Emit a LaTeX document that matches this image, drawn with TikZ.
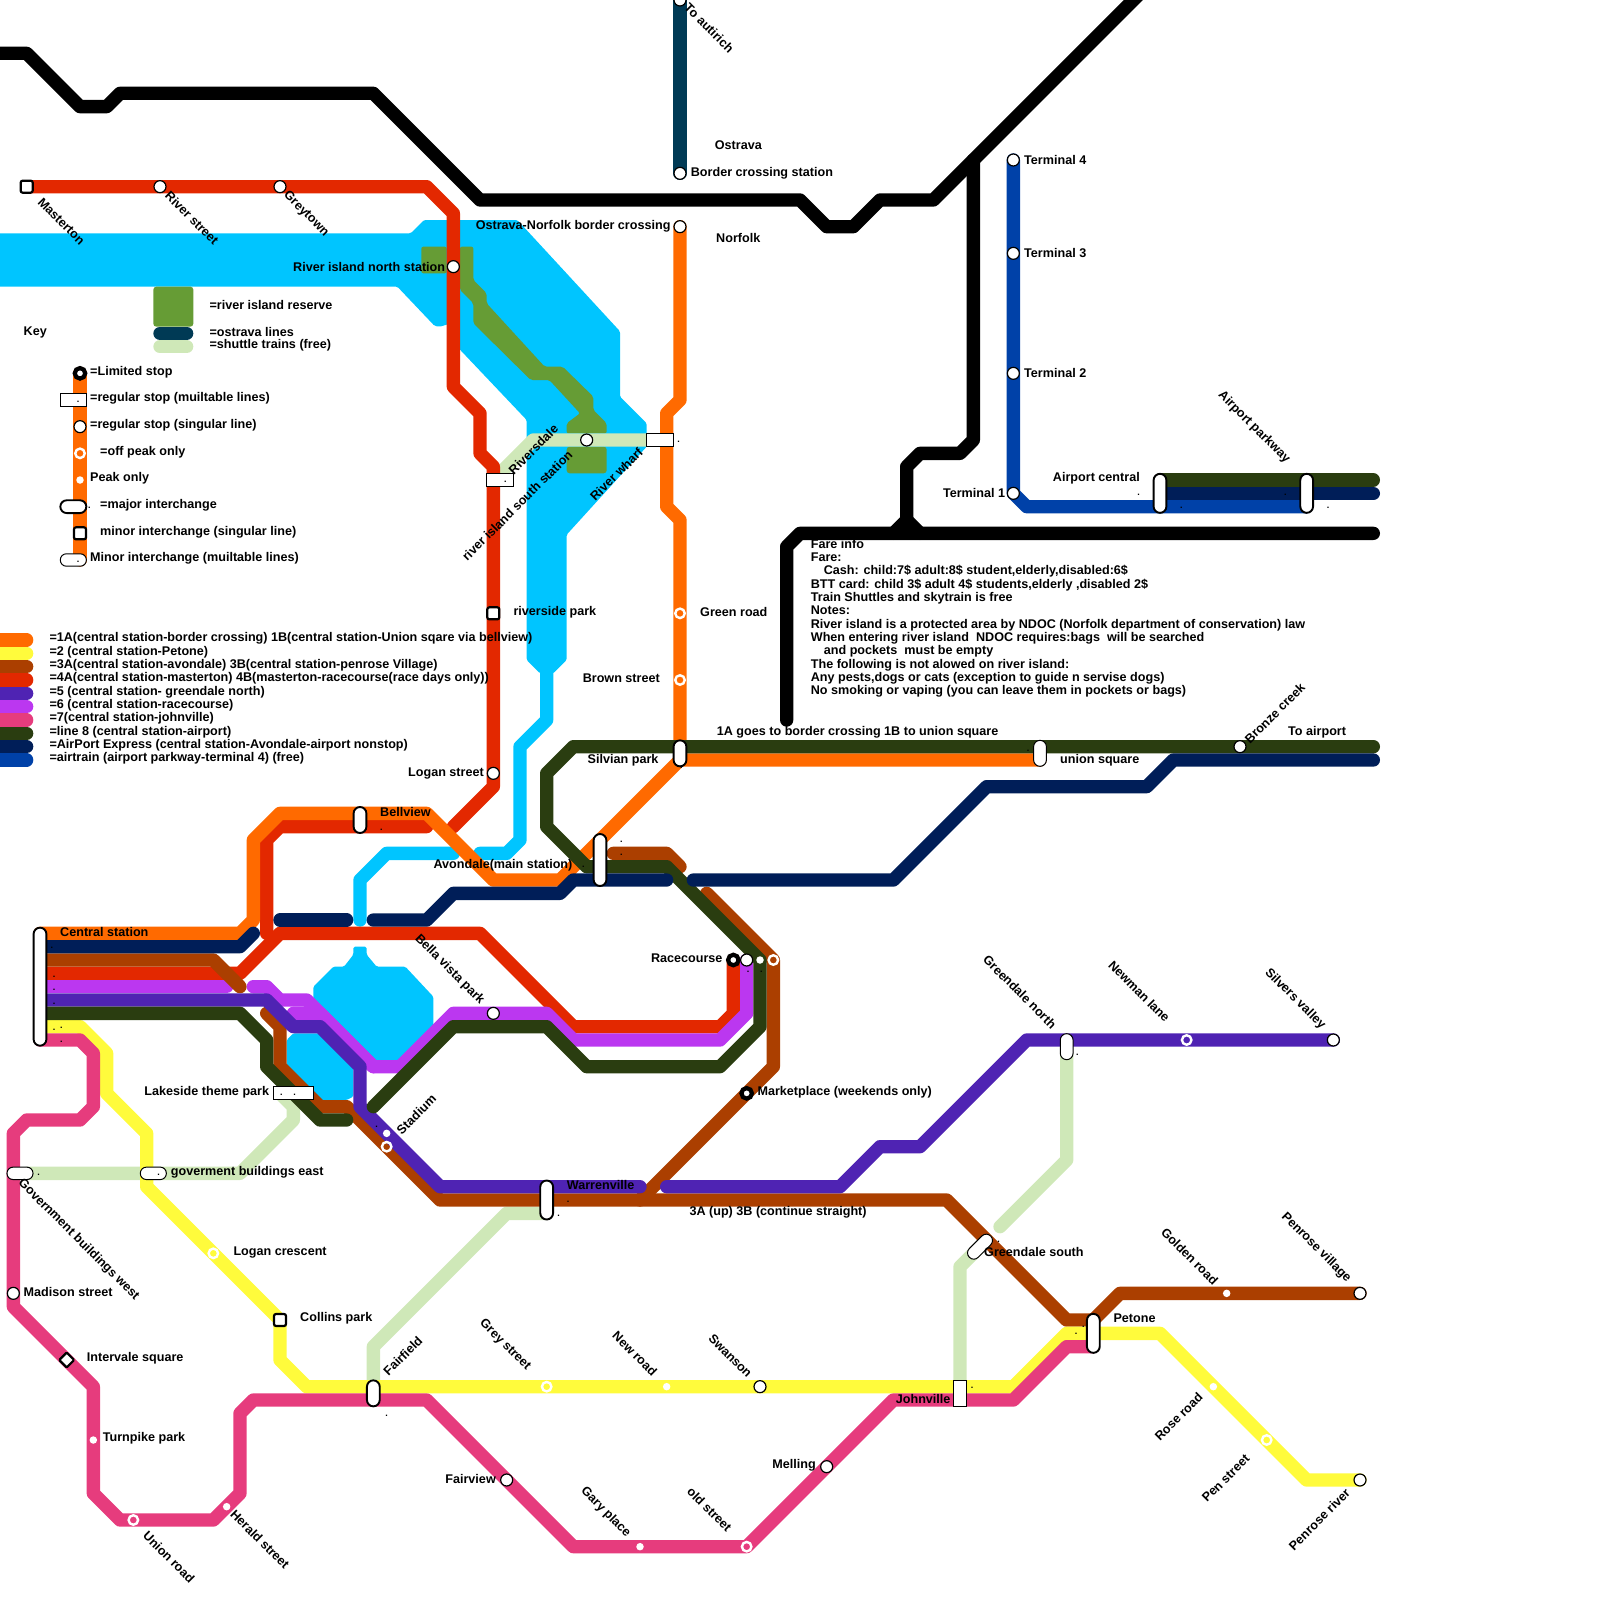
\documentclass[tikz,border=0pt]{standalone}
\usepackage{fontspec}
\setmainfont{Liberation Sans}
\definecolor{org}{HTML}{FF6A00}
\definecolor{ylw}{HTML}{FFFB3C}
\definecolor{brn}{HTML}{AB3F00}
\definecolor{rdd}{HTML}{E32800}
\definecolor{ind}{HTML}{4F23B3}
\definecolor{prp}{HTML}{BB37F0}
\definecolor{pnk}{HTML}{E63C7D}
\definecolor{dgr}{HTML}{2A3D10}
\definecolor{nvy}{HTML}{001E58}
\definecolor{blu}{HTML}{0041A8}
\definecolor{riv}{HTML}{00C5FF}
\definecolor{res}{HTML}{669C35}
\definecolor{ost}{HTML}{003A55}
\definecolor{sht}{HTML}{CFE8B8}

\begin{document}
\begin{tikzpicture}[
  x=13.333pt, y=-13.333pt,
  font=\bfseries\fontsize{12.6}{13.333}\selectfont,
  ln/.style={line width=13.333pt, line cap=round, line join=round},
  stn/.style={circle, draw=black, fill=white, line width=1.2pt, minimum size=12pt, inner sep=0pt},
  ltd/.style={circle, draw=black, fill=white, line width=4.2pt, minimum size=10.5pt, inner sep=0pt},
  off/.style={circle, draw=white, line width=2.4pt, minimum size=9.5pt, inner sep=0pt},
  peak/.style={circle, fill=white, minimum size=7.5pt, inner sep=0pt},
  sqr/.style={rectangle, rounded corners=2pt, draw=black, fill=white, line width=2.2pt, minimum size=12pt, inner sep=0pt},
  pill/.style={rectangle, rounded corners=6.4pt, draw=black, fill=white, line width=1.9pt, minimum width=12.8pt, inner sep=0pt},
  flat/.style={rectangle, rounded corners=6pt, draw=black, fill=white, line width=1pt, minimum width=26pt, minimum height=12.4pt, inner sep=0pt},
  stop/.style={rectangle, draw=black, fill=white, line width=1pt, minimum width=26.6pt, minimum height=13.3pt, inner sep=0pt},
  lab/.style={anchor=west, inner sep=0pt},
  labr/.style={anchor=east, inner sep=0pt},
  fall/.style={anchor=west, rotate=-45, inner sep=0pt},
  rise/.style={anchor=west, rotate=45, inner sep=0pt},
  speck/.style={inner sep=0pt, font=\bfseries\fontsize{9}{9}\selectfont}
]
\useasboundingbox (0,0) rectangle (120,120);

% ---------------------------------------------------------------- river
\fill[riv, rounded corners=1.5pt] (-1,17.5) -- (30.8,17.5) -- (31.8,16.5) -- (38.8,16.5) -- (46.5,24.85) -- (46.5,29.75)
  -- (48.5,31.75) -- (48.5,33.5) -- (42.5,40.1) -- (42.5,49.5) -- (41.5,50.5) -- (40.5,50.5) -- (39.5,49.5) -- (39.5,31.5)
  -- (34,25.7) -- (34,24.2) -- (33,24.5) -- (32.6,24.45) -- (29.8,21.5) -- (-1,21.5) -- cycle;
\draw[ln, riv] (41,50) -- (41,54) -- (39,56) -- (39,63) -- (38,64) -- (36,64);
\draw[ln, riv] (34,64) -- (29,64) -- (27,66) -- (27,69);
\fill[riv, rounded corners=1.5pt] (26.5,71) -- (27.5,71) -- (27.5,71.6) -- (28.25,72.5) -- (30.4,72.5) -- (32.5,74.75) -- (32.5,77.25)
  -- (30.25,79.5) -- (27.75,79.5) -- (23.5,75) -- (23.5,74) -- (25,72.5) -- (25.8,72.5) -- (26.5,71.6) -- cycle;
\fill[riv, rounded corners=1.5pt] (21.5,78) -- (22,77.5) -- (24.1,77.5) -- (26.5,79.75) -- (26.5,82.25) -- (26,82.5) -- (23.75,82.5) -- (21.5,80) -- cycle;

% ---------------------------------------------------------------- reserve
\fill[res, rounded corners=2pt] (31.6,18.5) rectangle (33.5,20.5);
\fill[res, rounded corners=2pt] (34.5,18.5) -- (35.5,18.5) -- (35.5,21) -- (36.5,22) -- (36.5,22.75) -- (40.85,27.5) -- (42.2,27.5)
  -- (44.5,29.75) -- (44.5,30.75) -- (45.5,31.75) -- (45.5,32.5) -- (42.5,32.5) -- (42.5,31.75) -- (43.5,31) -- (41.2,28.5) -- (39.8,28.5)
  -- (35.5,24.25) -- (35.5,22.75) -- (34.5,21.75) -- cycle;
\fill[res, rounded corners=3pt] (42.5,33.5) rectangle (45.5,35.5);
\fill[res, rounded corners=3pt] (11.5,21.5) rectangle (14.5,24.5);

% ---------------------------------------------------------------- lines
\draw[ln, black] (-1,4) -- (2,4) -- (6,8) -- (8,8) -- (9,7) -- (28,7) -- (36,15) -- (60,15) -- (62,17) -- (64,17) -- (66,15) -- (70,15) -- (86,-1);
\draw[ln, black] (73,12) -- (73,33) -- (72,34) -- (69,34) -- (68,35) -- (68,39.6);
\draw[ln, black] (103,40) -- (60,40) -- (59,41) -- (59,54);
\draw[ln, black] (67,40) -- (68,39) -- (69,40);
\draw[ln, ost] (51,-1) -- (51,13);
\draw[ln, blu] (76,12) -- (76,37) -- (77,38) -- (98,38);

% shuttles
\draw[ln, sht] (2,88) -- (18,88) -- (22,84) -- (22,83) -- (21,82);
\draw[ln, sht] (28,104) -- (28,101) -- (38,91) -- (41,91);
\draw[ln, sht] (80,79) -- (80,87) -- (75,92);
\draw[ln, sht] (72,104) -- (72,95) -- (74,93);
\draw[ln, sht] (37,36) -- (40,33) -- (49,33);

\draw[ln, rdd] (2,14) -- (32,14) -- (34,16) -- (34,29) -- (36,31) -- (36,34) -- (37,35) -- (37,59) -- (34,62);
\draw[ln, rdd] (32,62) -- (21,62) -- (20,63) -- (20,70);
\draw[ln, rdd] (3,73) -- (18,73) -- (21,70) -- (36,70) -- (43,77) -- (54,77) -- (55,76) -- (55,72);
\draw[ln, org] (3,70) -- (18,70) -- (19,69) -- (19,63) -- (21,61) -- (32,61) -- (37,66) -- (42,66) -- (51,57) -- (78,57);
\draw[ln, org] (51,17) -- (51,30) -- (50,31) -- (50,38) -- (51,39) -- (51,56);
\draw[ln, org] (6,28) -- (6,42);
\draw[ln, brn] (20,76) -- (21,77) -- (21,80) -- (24,83) -- (26,83) -- (33,90) -- (71,90) -- (80,99) -- (82,99) -- (84,97) -- (102,97);
\draw[ln, prp] (3,74) -- (17,74);
\draw[ln, brn] (3,72) -- (16,72) -- (18,74);
\draw[ln, brn] (48,90) -- (58,80) -- (58,72) -- (53,67);
\draw[ln, brn] (46,64) -- (50,64) -- (51,65);
\draw[ln, prp] (19,74) -- (20,74) -- (21,75) -- (23,75) -- (28,80) -- (30,80) -- (34,76) -- (41,76) -- (43,78) -- (54,78) -- (56,76) -- (56,72);
\draw[ln, prp] (22,76) -- (24,76) -- (28,80);
\draw[ln, ind] (3,75) -- (20,75) -- (22,77) -- (24,77) -- (27,80) -- (27,83) -- (33,89) -- (48,89);
\draw[ln, ind] (50,89) -- (63,89) -- (66,86) -- (69,86) -- (77,78) -- (100,78);
\draw[ln, ylw] (3,77) -- (6,77) -- (8,79) -- (8,82) -- (11,85) -- (11,89) -- (21,99) -- (21,102) -- (23,104) -- (76,104) -- (80,100) -- (87,100) -- (98,111) -- (102,111);
\draw[ln, pnk] (3,78) -- (6,78) -- (7,79) -- (7,83) -- (6,84) -- (2,84) -- (1,85) -- (1,98) -- (7,104) -- (7,112) -- (9,114) -- (16,114) -- (18,112)
  -- (18,106) -- (19,105) -- (32,105) -- (43,116) -- (56,116) -- (67,105) -- (76,105) -- (80,101) -- (82,101);
\draw[ln, dgr] (3,76) -- (18,76) -- (20,78) -- (20,80) -- (24,84) -- (26,84);
\draw[ln, dgr] (103,56) -- (43,56) -- (41,58) -- (41,62) -- (44,65) -- (50,65) -- (57,72) -- (57,77) -- (54,80) -- (44,80) -- (41,77) -- (34,77) -- (28,83);
\draw[ln, dgr] (87,36) -- (103,36);
\draw[ln, nvy] (3,71) -- (18,71) -- (19,70);
\draw[ln, nvy] (21,69) -- (26,69);
\draw[ln, nvy] (28,69) -- (32,69) -- (34,67) -- (42,67) -- (43,66) -- (50,66);
\draw[ln, nvy] (52,66) -- (67,66) -- (74,59) -- (86,59) -- (88,57) -- (103,57);
\draw[ln, nvy] (87,37) -- (103,37);

% ---------------------------------------------------------------- key swatches
\foreach \c/\y in {org/48,ylw/49,brn/50,rdd/51,ind/52,prp/53,pnk/54,dgr/55,nvy/56,blu/57}
  \draw[ln, \c] (-1,\y) -- (2,\y);
\draw[ln, ost] (12,25) -- (14,25);
\draw[ln, sht] (12,26) -- (14,26);

% ---------------------------------------------------------------- stops
\foreach \n/\x/\y in {autirich/51/0,border/51/13,crossing/51/17,term4/76/12,term3/76/19,term2/76/28,term1/76/37,rivernorth/34/20,
  riversouth/44/33,riverst/12/14,greytown/21/14,keyreg/6/32,logan/37/58,bellavista/37/76,madison/1/97,fairview/38/111,
  melling/62/110,swanson/57/104,pvillage/102/97,priver/102/111,silvers/100/78,bronze/93/56}
  \node[stn] (\n) at (\x,\y) {};
\foreach \n/\x/\y in {keyltd/6/28,racecourse/55/72,marketplace/56/82}
  \node[ltd] (\n) at (\x,\y) {};
\node[stn] (racesix) at (56,72) {};
\foreach \n/\x/\y in {keyoff/6/34,greenrd/51/46,brownst/51/51,stadiumb/29/86,rcthree/58/72,loganc/16/94,unionrd/10/114,
  oldst/56/116,greyst/41/104,newman/89/78,penst/95/108}
  \node[off] (\n) at (\x,\y) {};
\foreach \n/\x/\y in {keypeak/6/36,raceight/57/72,stadiuma/29/85,turnpike/7/108,herald/17/113,garypl/48/116,newrd/50/104,golden/92/97,rose/91/104}
  \node[peak] (\n) at (\x,\y) {};
\foreach \n/\x/\y in {masterton/2/14,riverside/37/46,collins/21/99,keysqr/6/40}
  \node[sqr] (\n) at (\x,\y) {};
\node[sqr, rotate=45, minimum size=10.5pt, rounded corners=1pt] (intervale) at (5,102) {};

\node[pill, minimum height=118pt] (central) at (3,74) {};
\node[pill, minimum height=26pt] (bellview) at (27,61.5) {};
\node[pill, minimum height=52pt] (avondale) at (45,64.5) {};
\node[pill, minimum height=26pt] (silvian) at (51,56.5) {};
\node[pill, minimum height=39pt] (warrenville) at (41,90) {};
\node[pill, minimum height=39pt] (petone) at (82,100) {};
\node[pill, minimum height=39pt] (aircentral) at (87,37) {};
\node[pill, minimum height=39pt] (airparkway) at (98,37) {};
\node[pill, minimum height=26pt] (fairfield) at (28,104.5) {};
\node[pill, rotate=90, minimum width=12.8pt, minimum height=26pt] (keymajor) at (5.5,38) {};
\node[pill, line width=1pt, minimum height=26pt] (unionsq) at (78,56.5) {};
\node[pill, line width=1pt, minimum height=26pt] (greennorth) at (80,78.5) {};
\node[flat] (keyminor) at (5.5,42) {};
\node[flat] (govwest) at (1.5,88) {};
\node[flat] (goveast) at (11.5,88) {};
\node[flat, rotate=45, minimum width=30pt] (greensouth) at (73.5,93.5) {};
\node[stop] (keystop) at (5.5,30) {};
\node[stop] (riversdale) at (37.5,36) {};
\node[stop] (riverwharf) at (49.5,33) {};
\node[stop, minimum width=40pt] (lakeside) at (22,82) {};
\node[stop, minimum width=13.3pt, minimum height=26.6pt] (johnville) at (72,104.5) {};

% specks left beside the stops
\foreach \x/\y [count=\i] in {5.86/30.1,6.7/38.1,5.86/42.1,37.9/36.1,50.9/33.1,85.4/37.1,88.6/38.1,96.4/37.1,99.6/38.1,77.1/56.3,
  28.6/62.2,43.75/65,46.6/63.1,46.6/64.1,51.1/57.6,3.9/71.1,4.05/73.25,4.05/74.25,4.05/75.25,4.05/77.25,4.6/77.1,4.6/78.1,
  56.1/72.9,57.1/72.9,21.1/82.1,22.1/82.1,28.25/84.5,2.9/88.1,11.9/88.1,72.9/104.1,29/106.2,74.9/93.1,80.7/100,81.25/99.5,
  80.8/79.1,41.9/91.2,42.6/90.1}
  \node[speck] (speck\i) at (\x,\y) {.};

% ---------------------------------------------------------------- names
\foreach \n/\x/\y/\t in {lborder/51.8/13/Border crossing station,lostrava/53.6/10.9/Ostrava,lnorfolk/53.7/17.85/Norfolk,
  lterm4/76.8/12/Terminal 4,lterm3/76.8/19/Terminal 3,lterm2/76.8/28/Terminal 2,lriverside/38.5/45.9/riverside park,
  lgreenrd/52.5/45.9/Green road,lnote/53.75/54.9/1A goes to border crossing 1B to union square,lunion/79.5/57/union square,
  lairport/96.6/54.9/To airport,lbellview/28.5/60.9/Bellview,lavondale/32.5/64.9/Avondale(main station),
  lcentral/4.5/69.9/Central station,lmarket/56.8/81.9/Marketplace (weekends only),lgoveast/12.8/87.9/goverment buildings east,
  lloganc/17.5/93.9/Logan crescent,lcollins/22.5/98.9/Collins park,lmadison/1.76/96.9/Madison street,
  lintervale/6.5/101.9/Intervale square,lturnpike/7.7/107.9/Turnpike park,lgreensouth/73.8/93.9/Greendale south,
  lpetone/83.5/98.9/Petone,lthree/51.7/90.9/3A (up) 3B (continue straight),lwarren/42.5/88.9/Warrenville}
  \node[lab] (\n) at (\x,\y) {\t};
\foreach \n/\x/\y/\t in {lrivernorth/33.4/20/River island north station,lcrossing/50.3/17/Ostrava-Norfolk border crossing,
  lterm1/75.4/37/Terminal 1,laircentral/85.5/35.9/Airport central,lbrownst/49.5/50.9/Brown street,lsilvian/49.4/57/Silvian park,
  llogan/36.3/58/Logan street,lrace/54.2/71.9/Racecourse,llakeside/20.2/81.9/Lakeside theme park,lfairview/37.2/110.9/Fairview,
  lmelling/61.2/109.9/Melling,ljohnville/71.3/104.9/Johnville}
  \node[labr] (\n) at (\x,\y) {\t};
\foreach \n/\x/\y/\t in {lmasterton/3/15/Masterton,lriverst/12.55/14.5/River street,lgreytown/21.4/14.5/Greytown,lautirich/51.5/0.4/To autirich,
  lparkway/91.5/29.5/Airport parkway,lbella/31.25/70.25/Bella vista park,lgovwest/1.5/88.6/Government buildings west,
  lunionrd/10.9/115/Union road,lherald/17.45/113.4/Herald street,lgary/43.7/111.7/Gary place,lold/51.7/111.7/old street,
  lgrey/36.1/99.1/Grey street,lnewrd/46.1/100/New road,lswanson/53.3/100.2/Swanson,lgolden/87.25/92.25/Golden road,
  lpvillage/96.25/91.1/Penrose village,lgnorth/73.9/71.8/Greendale north,lnewman/83.3/72.2/Newman lane,lsilvers/95/72.8/Silvers valley}
  \node[fall] (\n) at (\x,\y) {\t};
\foreach \n/\x/\y/\t in {lriversdale/38.3/35.4/Riversdale,lriversouth/34.8/41.9/river island south station,lwharf/44.4/37.4/River wharf,
  lbronze/93.5/55.6/Bronze creek,lstadium/29.9/84.9/Stadium,lfairfield/28.9/103/Fairfield,lrose/86.75/107.9/Rose road,
  lpenst/90.3/112.5/Pen street,lpriver/96.8/116.1/Penrose river}
  \node[rise] (\n) at (\x,\y) {\t};

% ---------------------------------------------------------------- key
\foreach \n/\x/\y/\t in {lkey/1.76/24.9/Key,lkres/15.7/22.9/=river island reserve,lkost/15.7/24.9/=ostrava lines,lksht/15.7/25.9/=shuttle trains (free),
  lkltd/6.75/27.9/=Limited stop,lkstop/6.75/29.9/=regular stop (muiltable lines),lkreg/6.75/31.9/=regular stop (singular line),
  lkoff/7.5/33.9/=off peak only,lkpeak/6.75/35.9/Peak only,lkmajor/7.5/37.9/=major interchange,
  lksqr/7.5/39.9/minor interchange (singular line),lkminor/6.75/41.9/Minor interchange (muiltable lines),
  lkone/3.7/47.9/=1A(central station-border crossing) 1B(central station-Union sqare via bellview),lktwo/3.7/48.9/=2 (central station-Petone),
  lkthree/3.7/49.9/=3A(central station-avondale) 3B(central station-penrose Village),
  lkfour/3.7/50.9/=4A(central station-masterton) 4B(masterton-racecourse(race days only)),
  lkfive/3.7/51.9/=5 (central station- greendale north),lksix/3.7/52.9/=6 (central station-racecourse),
  lkseven/3.7/53.9/=7(central station-johnville),lkeight/3.7/54.9/=line 8 (central station-airport),
  lkexpr/3.7/55.9/=AirPort Express (central station-Avondale-airport nonstop),lkair/3.7/56.9/=airtrain (airport parkway-terminal 4) (free)}
  \node[lab] (\n) at (\x,\y) {\t};

\node[lab, anchor=north west, align=left] (fare) at (60.8,40.4) {Fare info\\Fare:\\
  \hspace*{13pt}Cash: child:7\$ adult:8\$ student,elderly,disabled:6\$\\
  BTT card: child 3\$ adult 4\$ students,elderly ,disabled 2\$\\
  Train Shuttles and skytrain is free\\Notes:\\
  River island is a protected area by NDOC (Norfolk department of conservation) law\\
  When entering river island\ \ NDOC requires:bags\ \ will be searched\\
  \hspace*{13pt}and pockets\ \ must be empty\\
  The following is not alowed on river island:\\
  Any pests,dogs or cats (exception to guide n servise dogs)\\
  No smoking or vaping (you can leave them in pockets or bags)};
\end{tikzpicture}
\end{document}
